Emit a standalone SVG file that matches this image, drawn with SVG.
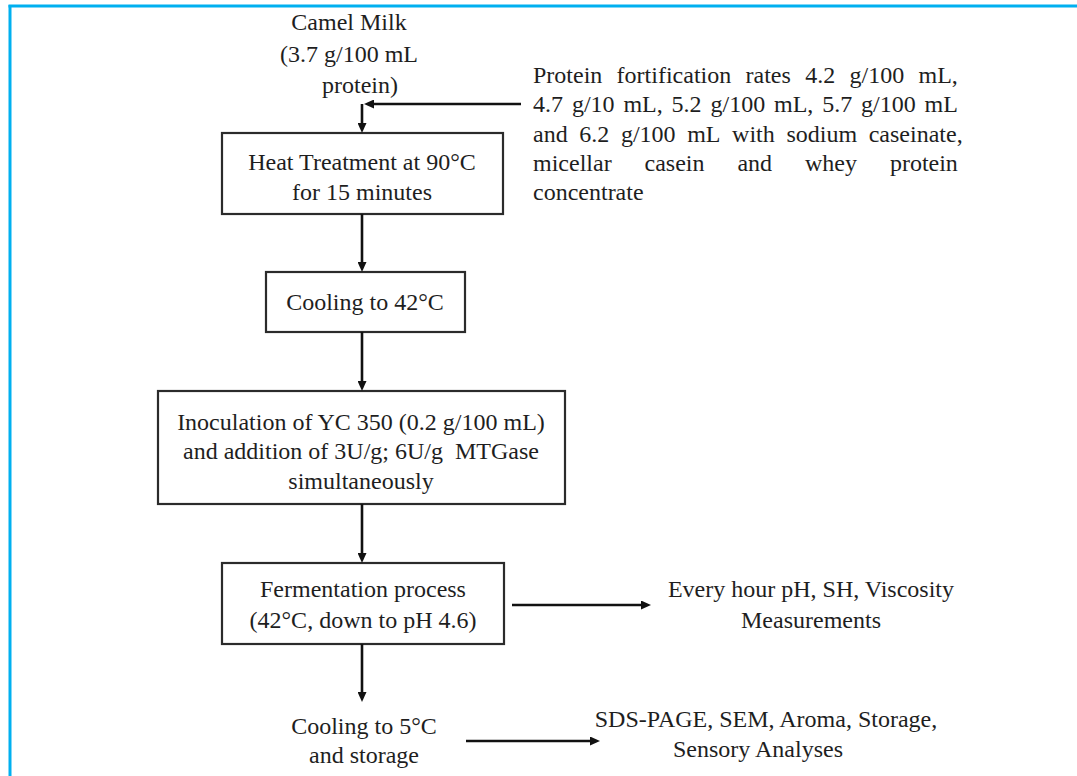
<svg xmlns="http://www.w3.org/2000/svg" width="1077" height="776" viewBox="0 0 1077 776">
<style>
text{font-family:"Liberation Serif","Times New Roman",serif;font-size:24px;fill:#1e1e1e}
.c{text-anchor:middle}
.box{fill:#fff;stroke:#2b2b2b;stroke-width:2.2}
.ln{fill:none;stroke:#111;stroke-width:2.6}
</style>
<defs>
<marker id="ah" markerUnits="userSpaceOnUse" markerWidth="11" markerHeight="9" refX="2" refY="4.5" orient="auto">
<path d="M0,0 L10,4.5 L0,9 z" fill="#111"/>
</marker>
</defs>
<rect width="1077" height="776" fill="#fff"/>
<g id="frame">
<line x1="10" y1="5" x2="10" y2="776" stroke="#00b0f0" stroke-width="3"/>
<line x1="8.5" y1="6" x2="1077" y2="6" stroke="#00b0f0" stroke-width="3"/>
</g>
<g id="camel-milk">
<text class="c" x="349" y="30">Camel Milk</text>
<text class="c" x="349" y="62">(3.7 g/100 mL</text>
<text class="c" x="360" y="93">protein)</text>
</g>
<g id="fortification">
<text y="83"><tspan x="533">Protein</tspan><tspan x="616.6">fortification</tspan><tspan x="745.5">rates</tspan><tspan x="805.2">4.2</tspan><tspan x="849.5">g/100</tspan><tspan x="918.5">mL,</tspan></text>
<text y="112"><tspan x="533">4.7</tspan><tspan x="571.9">g/10</tspan><tspan x="623.4">mL,</tspan><tspan x="671.6">5.2</tspan><tspan x="710.5">g/100</tspan><tspan x="774">mL,</tspan><tspan x="822.2">5.7</tspan><tspan x="861.1">g/100</tspan><tspan x="924.6">mL</tspan></text>
<text y="142"><tspan x="533">and</tspan><tspan x="579.3">6.2</tspan><tspan x="620.9">g/100</tspan><tspan x="687.2">mL</tspan><tspan x="732.1">with</tspan><tspan x="786.4">sodium</tspan><tspan x="868.7">caseinate,</tspan></text>
<text y="171"><tspan x="533">micellar</tspan><tspan x="644.5">casein</tspan><tspan x="737.4">and</tspan><tspan x="805">whey</tspan><tspan x="889.9">protein</tspan></text>
<text x="533" y="200">concentrate</text>
</g>
<g id="heat-treatment">
<rect class="box" x="222" y="133" width="281" height="81"/>
<text class="c" x="362" y="170">Heat Treatment at 90°C</text>
<text class="c" x="362" y="200">for 15 minutes</text>
</g>
<g id="cooling-42">
<rect class="box" x="266" y="272" width="199" height="60"/>
<text class="c" x="365" y="310">Cooling to 42°C</text>
</g>
<g id="inoculation">
<rect class="box" x="158" y="391" width="407" height="113"/>
<text class="c" x="361" y="430">Inoculation of YC 350 (0.2 g/100 mL)</text>
<text class="c" x="361" y="459">and addition of 3U/g; 6U/g&#160; MTGase</text>
<text class="c" x="361" y="489">simultaneously</text>
</g>
<g id="fermentation">
<rect class="box" x="222" y="563" width="282" height="81"/>
<text class="c" x="363" y="597">Fermentation process</text>
<text class="c" x="363" y="628">(42°C, down to pH 4.6)</text>
</g>
<g id="measurements">
<text class="c" x="811" y="597">Every hour pH, SH, Viscosity</text>
<text class="c" x="811" y="628">Measurements</text>
</g>
<g id="cooling-5">
<text class="c" x="364" y="734">Cooling to 5°C</text>
<text class="c" x="364" y="763">and storage</text>
</g>
<g id="analyses">
<text class="c" x="766" y="727">SDS-PAGE, SEM, Aroma, Storage,</text>
<text class="c" x="758" y="757">Sensory Analyses</text>
</g>
<g id="connectors">
<line class="ln" x1="521" y1="104" x2="372" y2="104" marker-end="url(#ah)"/>
<line class="ln" x1="362" y1="104" x2="362" y2="125" marker-end="url(#ah)"/>
<line class="ln" x1="362" y1="214" x2="362" y2="264" marker-end="url(#ah)"/>
<line class="ln" x1="362" y1="332" x2="362" y2="383" marker-end="url(#ah)"/>
<line class="ln" x1="362" y1="504" x2="362" y2="555" marker-end="url(#ah)"/>
<line class="ln" x1="362" y1="644" x2="362" y2="694" marker-end="url(#ah)"/>
<line class="ln" x1="512" y1="605" x2="643" y2="605" marker-end="url(#ah)"/>
<line class="ln" x1="466" y1="741" x2="592" y2="741" marker-end="url(#ah)"/>
</g>
</svg>
